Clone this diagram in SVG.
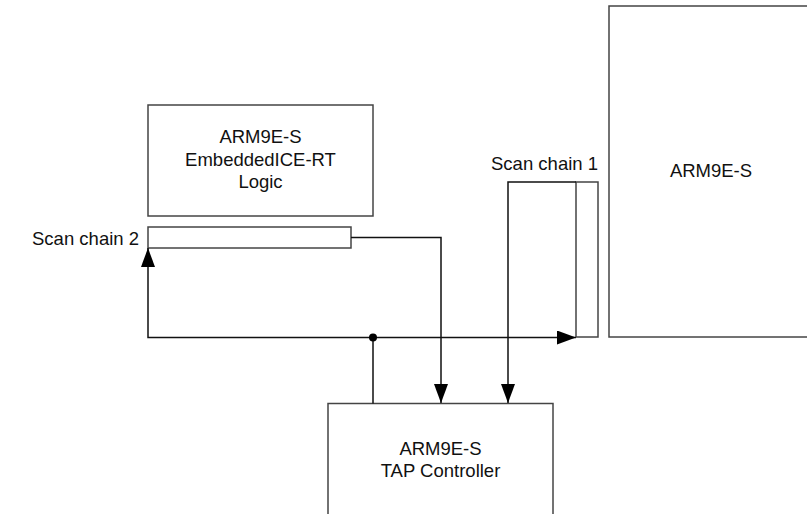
<svg xmlns="http://www.w3.org/2000/svg" width="807" height="514" viewBox="0 0 807 514">
<style>
.box{fill:#fff;stroke:#444;stroke-width:1.5}
.ln{fill:none;stroke:#111;stroke-width:1.5}
text{font-family:"Liberation Sans",Arial,sans-serif;font-size:18.5px;fill:#111}
.c{text-anchor:middle}
</style>
<defs>
<marker id="ah" markerWidth="19" markerHeight="14" refX="19" refY="7" viewBox="0 0 19 14" orient="auto" markerUnits="userSpaceOnUse">
<path d="M0,0 L19,7 L0,14 Z" fill="#000"/>
</marker>
</defs>
<rect width="807" height="514" fill="#fff"/>
<g id="arm9es">
<rect class="box" x="609" y="6" width="220" height="331"/>
<text class="c" x="711" y="177">ARM9E-S</text>
</g>
<g id="embeddedice">
<rect class="box" x="148" y="105" width="225" height="111"/>
<text class="c" x="260.5" y="143">ARM9E-S</text>
<text class="c" x="260.5" y="166">EmbeddedICE-RT</text>
<text class="c" x="260.5" y="188">Logic</text>
</g>
<g id="scanchain2">
<rect class="box" x="148" y="227" width="203" height="21"/>
<text x="139" y="245" text-anchor="end">Scan chain 2</text>
</g>
<g id="scanchain1">
<rect class="box" x="576" y="182" width="22" height="155"/>
<text x="598" y="170" text-anchor="end">Scan chain 1</text>
</g>
<g id="tap">
<rect class="box" x="328" y="403.5" width="225" height="130"/>
<text class="c" x="440.5" y="455">ARM9E-S</text>
<text class="c" x="440.5" y="477">TAP Controller</text>
</g>
<g id="connectors">
<path class="ln" d="M351,237.5 H441 V403" marker-end="url(#ah)"/>
<path class="ln" d="M576,182 H508 V403" marker-end="url(#ah)"/>
<path class="ln" d="M373,403.5 V337.5 H148 V248" marker-end="url(#ah)"/>
<path class="ln" d="M373,337.5 H576" marker-end="url(#ah)"/>
<circle cx="373" cy="337.5" r="4" fill="#000"/>
</g>
</svg>
